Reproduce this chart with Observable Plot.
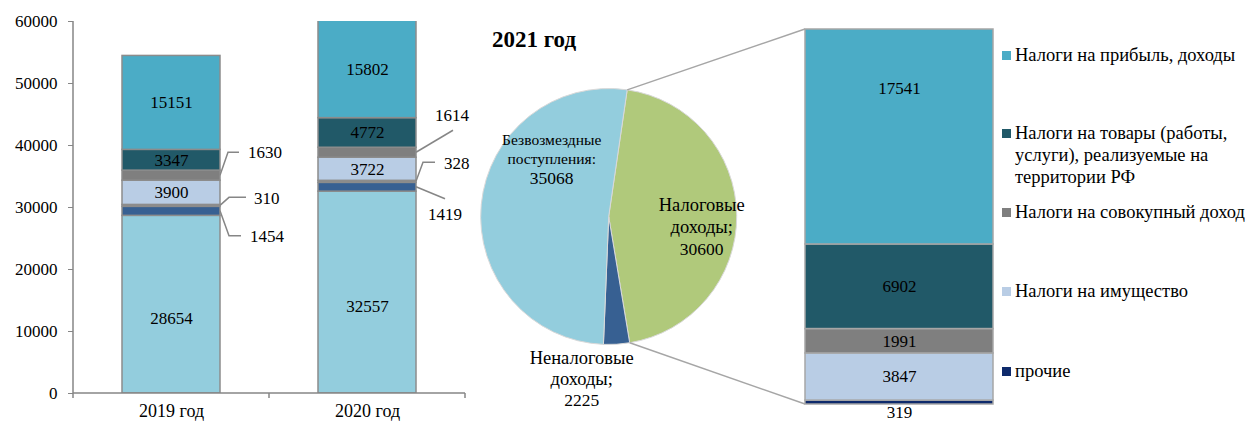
<!DOCTYPE html>
<html><head><meta charset="utf-8">
<script src="https://cdn.jsdelivr.net/npm/d3@7"></script>
<script src="https://cdn.jsdelivr.net/npm/@observablehq/plot@0.6"></script>
<style>
body{margin:0;background:#fff;}
#wrap{position:relative;width:1248px;height:421px;overflow:hidden;font-family:"Liberation Serif","Times New Roman",serif;color:#000;}
.chart{position:absolute;top:0;}
#title{position:absolute;left:492px;top:27px;font-weight:bold;font-size:23px;line-height:26px;}
.leg{position:absolute;left:1002px;font-size:18.5px;line-height:22px;display:flex;align-items:flex-start;}
.leg .sw{width:9px;height:9px;margin-top:7px;margin-right:4px;flex:none;}
.leg .lt{width:240px;}
svg [aria-label="y-axis tick"] path, svg [aria-label="y-axis tick"] line{stroke:#868686;}
svg [aria-label="x-axis tick label"] text{font-size:18px;}
</style></head><body><div id="wrap"></div>
<script>
// ---------- data ----------
const years = ["2019 год", "2020 год"];
const seriesNames = [
  "Безвозмездные поступления",
  "Неналоговые доходы",
  "прочие",
  "Налоги на имущество",
  "Налоги на совокупный доход",
  "Налоги на товары (работы, услуги), реализуемые на территории РФ",
  "Налоги на прибыль, доходы"
];
const values2019 = [28654, 1454, 310, 3900, 1630, 3347, 15151];
const values2020 = [32557, 1419, 328, 3722, 1614, 4772, 15802];
const yTicks = [0, 10000, 20000, 30000, 40000, 50000, 60000];

const pieTitle = "2021 год";
const pieNames = ["Налоговые доходы", "Неналоговые доходы", "Безвозмездные поступления"];
const pieValues = [30600, 2225, 35068];
const pieLabelLines = [["Налоговые", "доходы;"], ["Неналоговые", "доходы;"], ["Безвозмездные", "поступления:"]];

const taxCats = [
  "прочие",
  "Налоги на имущество",
  "Налоги на совокупный доход",
  "Налоги на товары (работы, услуги), реализуемые на территории РФ",
  "Налоги на прибыль, доходы"
];
const taxValues2021 = [319, 3847, 1991, 6902, 17541];

// ---------- styles ----------
const leftColors = ["#93CDDD", "#376092", "#8C8C8C", "#B9CDE5", "#7F7F7F", "#215968", "#4BACC6"];
const taxColors = ["#0E2A6B", "#B9CDE5", "#7F7F7F", "#215968", "#4BACC6"];
const pieColors = ["#B0C97B", "#376092", "#93CDDD"];
const font = '"Liberation Serif","Times New Roman",serif';
const axisColor = "#868686";

// callout layout (pixel offsets from the segment's right edge / midpoint)
const callouts = [
  {year: "2019 год", series: "Налоги на совокупный доход", pts: [[8, -23], [19, -23]], tx: 28, ty: -23, anchor: "start"},
  {year: "2019 год", series: "прочие", pts: [[9, -8], [26, -8]], tx: 34, ty: -7, anchor: "start"},
  {year: "2019 год", series: "Неналоговые доходы", pts: [[9, 25], [21, 25]], tx: 30, ty: 25, anchor: "start"},
  {year: "2020 год", series: "Налоги на совокупный доход", pts: [[37, -22]], tx: 36, ty: -37, anchor: "middle"},
  {year: "2020 год", series: "прочие", pts: [[7, -19], [19, -19]], tx: 28, ty: -18, anchor: "start"},
  {year: "2020 год", series: "Неналоговые доходы", pts: [[29, 12]], tx: 29, ty: 27, anchor: "middle"}
];

const wrap = document.getElementById("wrap");
const valuesByYear = [values2019, values2020];
const leftRows = years.flatMap((yr, i) => seriesNames.map((s, j) => ({year: yr, series: s, value: valuesByYear[i][j]})));
const key = d => d.year + "|" + d.series;
const calloutKeys = new Set(callouts.map(key));

function leftDecor(index, scales, values, dims) {
  const {x, y} = scales;
  const bw = x.bandwidth();
  const step = x.step();
  const g = d3.create("svg:g");
  const x0 = dims.marginLeft, y0 = dims.height - dims.marginBottom;
  g.append("line").attr("x1", x0).attr("x2", x0).attr("y1", dims.marginTop).attr("y2", y0)
    .attr("stroke", axisColor).attr("stroke-width", 1.5);
  g.append("line").attr("x1", x0).attr("x2", dims.width - dims.marginRight).attr("y1", y0).attr("y2", y0)
    .attr("stroke", axisColor).attr("stroke-width", 1.5);
  // category boundary ticks
  const bounds = [x(years[0]) + bw / 2 - step / 2, ...years.map(yr => x(yr) + bw / 2 + step / 2)];
  for (const bx of bounds) {
    g.append("line").attr("x1", bx).attr("x2", bx).attr("y1", y0).attr("y2", y0 + 5)
      .attr("stroke", axisColor).attr("stroke-width", 1.5);
  }
  for (const c of callouts) {
    const vals = valuesByYear[years.indexOf(c.year)];
    const j = seriesNames.indexOf(c.series);
    const mid = d3.sum(vals.slice(0, j)) + vals[j] / 2;
    const sx = x(c.year) + bw, sy = y(mid);
    const pts = [[sx, sy], ...c.pts.map(([dx, dy]) => [sx + dx, sy + dy])];
    g.append("path").attr("d", d3.line()(pts)).attr("fill", "none")
      .attr("stroke", axisColor).attr("stroke-width", 1.5);
    g.append("text").attr("x", sx + c.tx).attr("y", sy + c.ty).attr("dy", "0.35em")
      .attr("text-anchor", c.anchor).attr("font-size", 17).attr("fill", "#000").text(vals[j]);
  }
  return g.node();
}

const left = Plot.plot({
  width: 470, height: 421,
  marginLeft: 73, marginRight: 5, marginTop: 21, marginBottom: 28,
  style: {fontFamily: font, fontSize: "17px", color: "#000", background: "transparent", overflow: "visible"},
  x: {domain: years, paddingInner: 0.5, paddingOuter: 0.25, tickSize: 0, tickPadding: 11, label: null},
  y: {domain: [0, 60000], ticks: yTicks, tickFormat: "d", tickSize: 5, tickPadding: 11, label: null},
  color: {domain: seriesNames, range: leftColors},
  marks: [
    Plot.barY(leftRows, {x: "year", y: "value", fill: "series", stroke: "#8C8C8C", strokeWidth: 1.5, clip: true}),
    Plot.text(leftRows, Plot.stackY({x: "year", y: "value", z: "series",
      text: d => (!calloutKeys.has(key(d)) && d.series !== seriesNames[0]) ? String(d.value) : null,
      fontSize: 17, fill: "#000"})),
    Plot.text(leftRows, Plot.stackY({x: "year", y: "value", z: "series",
      text: d => d.series === seriesNames[0] ? String(d.value) : null,
      fontSize: 17, fill: "#000", dy: 14})),
    leftDecor
  ]
});
left.classList.add("chart");
left.style.left = "0px";
wrap.appendChild(left);

// ---------- pie + breakdown bar ----------
const rightRows = taxCats.map((c, i) => ({cat: "2021", series: c, value: taxValues2021[i]}));
const taxTotal = d3.sum(taxValues2021);
const pieCx = 168.7, pieCy = 216.5, pieR = 128, pieStart = 0.145;
const pieLabelPos = [
  {dx: 93, dy: -12, size: 18.5, lh: 22},
  {dx: -27, dy: 141, size: 18.5, lh: 21},
  {dx: -57, dy: -77, size: 15.5, lh: 19}
];

function pieMark(index, scales, values, dims) {
  const {x, y} = scales;
  const g = d3.create("svg:g");
  const arcs = d3.pie().sort(null).startAngle(pieStart).endAngle(pieStart + 2 * Math.PI)(pieValues);
  const arc = d3.arc().innerRadius(0).outerRadius(pieR);
  const pg = g.append("g").attr("transform", `translate(${pieCx},${pieCy})`);
  pg.selectAll("path").data(arcs).join("path").attr("d", arc)
    .attr("fill", (d, i) => pieColors[i]).attr("stroke", "#D9D9D9").attr("stroke-width", 1);
  // connector lines from the tax slice to the breakdown bar
  const pt = a => [pieCx + pieR * Math.sin(a), pieCy - pieR * Math.cos(a)];
  const bx = x("2021");
  const [ax1, ay1] = pt(arcs[0].startAngle), [ax2, ay2] = pt(arcs[0].endAngle);
  g.append("line").attr("x1", ax1).attr("y1", ay1).attr("x2", bx).attr("y2", y(taxTotal))
    .attr("stroke", "#A6A6A6").attr("stroke-width", 1.5);
  g.append("line").attr("x1", ax2).attr("y1", ay2).attr("x2", bx).attr("y2", y(0))
    .attr("stroke", "#A6A6A6").attr("stroke-width", 1.5);
  // labels
  pieNames.forEach((n, i) => {
    const p = pieLabelPos[i];
    const t = g.append("text").attr("text-anchor", "middle").attr("fill", "#000")
      .attr("transform", `translate(${pieCx + p.dx},${pieCy + p.dy})`);
    pieLabelLines[i].forEach((line, k) => {
      t.append("tspan").attr("x", 0).attr("y", k * p.lh).attr("dy", "0.35em")
        .attr("font-size", p.size).text(line);
    });
    t.append("tspan").attr("x", 0).attr("y", pieLabelLines[i].length * p.lh).attr("dy", "0.35em")
      .attr("font-size", 17.5).text(pieValues[i]);
  });
  return g.node();
}

const right = Plot.plot({
  width: 560, height: 421,
  marginLeft: 365, marginRight: 7, marginTop: 29, marginBottom: 17,
  style: {fontFamily: font, fontSize: "17px", color: "#000", background: "transparent", overflow: "visible"},
  x: {domain: ["2021"], padding: 0, axis: null},
  y: {domain: [0, taxTotal], axis: null},
  color: {domain: taxCats, range: taxColors},
  marks: [
    pieMark,
    Plot.barY(rightRows, {x: "cat", y: "value", fill: "series", stroke: "#A6A6A6", strokeWidth: 1.5}),
    Plot.text(rightRows, Plot.stackY({x: "cat", y: "value", z: "series",
      text: d => (d.series !== taxCats[0] && d.series !== taxCats[taxCats.length - 1]) ? String(d.value) : null,
      fontSize: 17, fill: "#000"})),
    Plot.text(rightRows, Plot.stackY({x: "cat", y: "value", z: "series",
      text: d => d.series === taxCats[taxCats.length - 1] ? String(d.value) : null,
      fontSize: 17, fill: "#000", dy: -48})),
    Plot.text(rightRows, Plot.stackY1({x: "cat", y: "value", z: "series",
      text: d => d.series === taxCats[0] ? String(d.value) : null,
      fontSize: 17, fill: "#000", dy: 8}))
  ]
});
right.classList.add("chart");
right.style.left = "440px";
wrap.appendChild(right);

// title
const title = document.createElement("div");
title.id = "title";
title.textContent = pieTitle;
wrap.appendChild(title);

// legend (top to bottom = reverse stacking order)
const legendTops = [44, 122, 201, 280, 360];
taxCats.slice().reverse().forEach((c, i) => {
  const item = document.createElement("div");
  item.className = "leg";
  item.style.top = legendTops[i] + "px";
  const sw = document.createElement("div");
  sw.className = "sw";
  sw.style.background = taxColors[taxCats.indexOf(c)];
  const lt = document.createElement("div");
  lt.className = "lt";
  lt.textContent = c;
  item.appendChild(sw); item.appendChild(lt);
  wrap.appendChild(item);
});
</script></body></html>
